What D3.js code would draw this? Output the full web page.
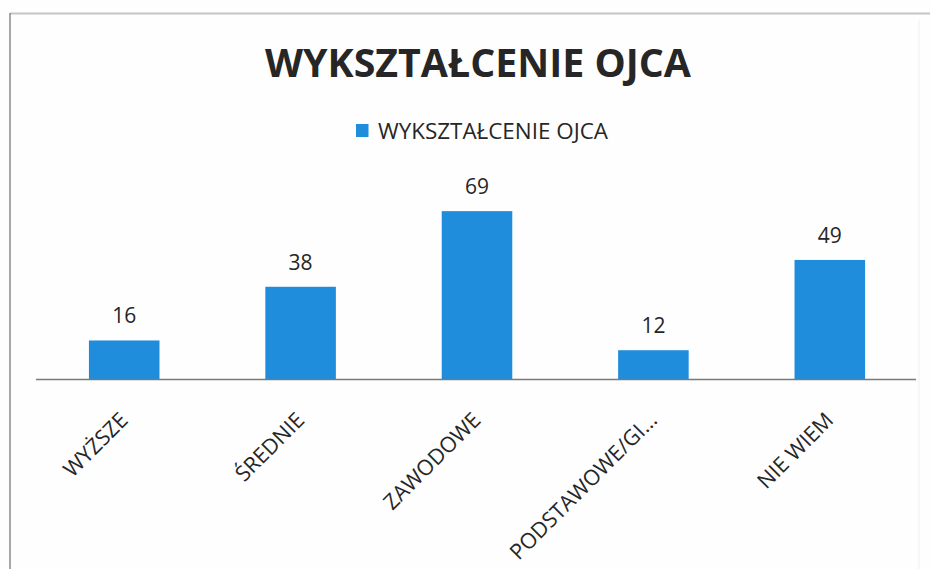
<!DOCTYPE html>
<html>
<head>
<meta charset="utf-8">
<script src="https://cdn.jsdelivr.net/npm/d3@7"></script>
<style>
  html, body { margin: 0; padding: 0; background: #ffffff; }
  svg { display: block; }
</style>
</head>
<body>
<script>
const chartTitle = "WYKSZTAŁCENIE OJCA";
const seriesName = "WYKSZTAŁCENIE OJCA";
const categories = ["WYŻSZE", "ŚREDNIE", "ZAWODOWE", "PODSTAWOWE/GI...", "NIE WIEM"];
const values = [16, 38, 69, 12, 49];
const yDomain = [0, 80];

const W = 932, H = 569;
const barColor = "#1f8ddb";
const textColor = "#262626";

const svg = d3.select("body").append("svg").attr("width", W).attr("height", H);
svg.append("rect").attr("width", W).attr("height", H).attr("fill", "#fefefe");

// scanned page border
svg.append("line").attr("x1", 10).attr("x2", 930).attr("y1", 13.5).attr("y2", 13.5)
  .attr("stroke", "#c4c4c4").attr("stroke-width", 2);
svg.append("line").attr("x1", 10).attr("x2", 10).attr("y1", 13).attr("y2", H)
  .attr("stroke", "#8a8a8a").attr("stroke-width", 1.5);
svg.append("line").attr("x1", 919).attr("x2", 919).attr("y1", 20).attr("y2", H)
  .attr("stroke", "#f0f0f0").attr("stroke-width", 1);

const x = d3.scaleBand().domain(categories).range([36, 918]).paddingInner(0.6).paddingOuter(0.3);
const y = d3.scaleLinear().domain(yDomain).range([379.5, 184.3]);

// title
const title = svg.append("text")
  .attr("x", 478).attr("y", 76.5)
  .attr("text-anchor", "middle")
  .attr("font-family", "'Open Sans', sans-serif")
  .attr("font-weight", 700)
  .attr("font-size", 40)
  .attr("fill", textColor)
  .text(chartTitle);
const tl = title.node().getComputedTextLength();
title.attr("font-size", 40 * 426 / tl);

// legend
const legend = svg.append("g");
legend.append("rect").attr("x", 356).attr("y", 124).attr("width", 12.5).attr("height", 13)
  .attr("fill", barColor);
const legText = legend.append("text")
  .attr("x", 378).attr("y", 139)
  .attr("font-family", "'Open Sans', sans-serif")
  .attr("font-size", 21)
  .attr("fill", textColor)
  .text(seriesName);
const ll = legText.node().getComputedTextLength();
legText.attr("font-size", 21 * 230 / ll);

// bars
svg.append("g").selectAll("rect")
  .data(values)
  .join("rect")
  .attr("x", (d, i) => x(categories[i]))
  .attr("width", x.bandwidth())
  .attr("y", d => y(d))
  .attr("height", d => y(0) - y(d))
  .attr("fill", barColor);

// value labels
svg.append("g").selectAll("text")
  .data(values)
  .join("text")
  .attr("x", (d, i) => x(categories[i]) + x.bandwidth() / 2)
  .attr("y", d => y(d) - 17)
  .attr("text-anchor", "middle")
  .attr("font-family", "'Open Sans', sans-serif")
  .attr("font-size", 21)
  .attr("fill", textColor)
  .text(d => d);

// category axis
const axis = d3.axisBottom(x).tickSize(0).tickPadding(0);
const ax = svg.append("g").attr("transform", `translate(0,${y(0)})`).call(axis);
ax.select(".domain").remove();
ax.append("line").attr("x1", 36).attr("x2", 916).attr("y1", 0).attr("y2", 0)
  .attr("stroke", "#7a7a7a").attr("stroke-width", 1.6);
ax.selectAll(".tick text")
  .attr("font-family", "'Open Sans', sans-serif")
  .attr("font-size", 21.5)
  .attr("fill", textColor)
  .attr("text-anchor", "end")
  .attr("dy", null)
  .attr("y", 0)
  .attr("transform", "translate(5,42) rotate(-45)");
</script>
</body>
</html>
